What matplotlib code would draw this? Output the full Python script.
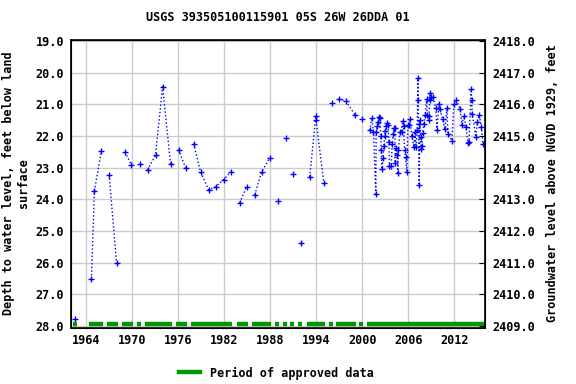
import matplotlib
matplotlib.use("Agg")
import matplotlib.pyplot as plt
import numpy as np

nan = np.nan

# measurement dates (decimal years) and depths (ft below land surface); nan = break in line
years = [1962.6, nan,
         1964.73, 1965.12, 1966.04, nan,
         1967.04, 1968.0, nan,
         1969.1, 1969.95, nan,
         1971.0, nan,
         1972.04, 1973.08, 1974.0, 1975.04, nan,
         1976.08, 1977.0, nan,
         1978.03, 1978.95, 1980.0, 1980.9, 1981.95, 1982.86, nan,
         1984.04, 1984.95, nan,
         1986.0, 1986.9, 1987.95, nan,
         1989.0, nan, 1990.03, nan, 1990.95, nan, 1992.0, nan,
         1993.17, 1993.95, 1994.0, 1995.0, nan,
         1996.04, nan,
         1996.95, 1997.9, 1999.03, nan,
         2000.0, nan,
         2001.0, 2001.26, 2001.47, 2001.78, 2001.82, 2001.95, 2002.08, 2002.21,
         2002.30, 2002.43, 2002.47, 2002.60, 2002.69, 2002.82, 2002.91, 2002.99,
         2003.13, 2003.26, 2003.39, 2003.47, 2003.56, 2003.78, 2003.91, 2004.04,
         2004.17, 2004.26, 2004.30, 2004.43, 2004.56, 2004.65, 2004.73, 2004.91,
         2005.13, 2005.26, 2005.39, 2005.52, 2005.65, 2005.82, 2005.95, 2006.13,
         2006.21, 2006.47, 2006.73, 2006.87, 2007.0, 2007.17, 2007.26, 2007.30,
         2007.34, 2007.43, 2007.52, 2007.60, 2007.69, 2007.78, 2007.87, 2008.04,
         2008.21, 2008.39, 2008.47, 2008.65, 2008.73, 2008.78, 2008.87, 2009.0,
         2009.17, 2009.60, 2009.73, 2010.0, 2010.13, 2010.47, 2010.78, 2011.04,
         2011.17, 2011.69, 2011.95, 2012.21, 2012.73, 2013.0, 2013.26, 2013.52,
         2013.78, 2013.91, 2014.21, 2014.26, 2014.34, 2014.82, 2015.0, 2015.26,
         2015.52, 2015.73]
depths = [27.79, nan,
          26.52, 23.73, 22.46, nan,
          23.22, 26.01, nan,
          22.50, 22.91, nan,
          22.88, nan,
          23.07, 22.60, 20.44, 22.88, nan,
          22.43, 23.0, nan,
          22.24, 23.13, 23.70, 23.60, 23.38, 23.13, nan,
          24.11, 23.60, nan,
          23.86, 23.13, 22.69, nan,
          24.05, nan, 22.05, nan, 23.19, nan, 25.38, nan,
          23.29, 21.36, 21.50, 23.48, nan,
          20.94, nan,
          20.82, 20.90, 21.32, nan,
          21.45, nan,
          21.82, 21.42, 21.87, 23.83, 21.87, 21.68, 21.55, 21.39,
          21.42, 21.99, 22.43, 23.04, 22.69, 22.31, 22.01, 21.84,
          21.68, 21.58, 21.66, 22.19, 22.96, 22.93, 22.26, 21.93,
          21.74, 21.74, 22.85, 22.39, 22.60, 23.16, 22.43, 21.88,
          21.88, 21.51, 21.68, 22.43, 22.67, 23.13, 21.66, 21.64,
          21.45, 22.01, 22.35, 21.86, 22.35, 21.82, 20.18, 20.87,
          21.61, 23.56, 21.50, 22.03, 22.41, 22.30, 21.90, 21.61,
          21.32, 20.82, 21.32, 21.38, 21.50, 20.63, 20.87, 20.76,
          20.76, 21.10, 21.82, 20.98, 21.16, 21.45, 21.79, 21.10,
          21.93, 22.14, 21.00, 20.85, 21.13, 21.64, 21.36, 21.71,
          22.22, 22.19, 20.52, 20.87, 21.29, 22.03, 21.57, 21.33,
          21.71, 22.24]

# periods of approved data
approved_start = [1962.34, 1964.43, 1966.78, 1968.73, 1970.69, 1971.73, 1975.78,
                  1977.73, 1983.73, 1985.69, 1988.69, 1989.73, 1990.65, 1991.69,
                  1992.86, 1995.73, 1996.65, 1999.65, 2000.69]
approved_end = [1962.87, 1966.26, 1968.21, 1970.17, 1971.21, 1975.26, 1977.21,
                1983.08, 1985.17, 1988.17, 1989.21, 1990.26, 1991.17, 1992.21,
                1995.21, 1996.26, 1999.26, 2000.17, 2016.0]

datum = 2437.0
x_ticks = [1964, 1970, 1976, 1982, 1988, 1994, 2000, 2006, 2012]
y_ticks = np.arange(19.0, 28.01, 1.0)
elev_ticks = np.arange(2409.0, 2418.01, 1.0)

font = {"family": "DejaVu Sans Mono", "weight": "bold", "size": 8.5}

fig = plt.figure(figsize=(5.76, 3.84), dpi=100)
ax = fig.add_axes([0.123, 0.147, 0.719, 0.750])

ax.plot(years, depths, linestyle=":", color="blue", linewidth=1.0,
        marker="+", markersize=4, markeredgewidth=1.0)
ax.hlines([27.93] * len(approved_start), approved_start, approved_end,
          color="#009900", linewidth=3.2)

ax.set_xlim(1962.05, 2016.0)
ax.set_ylim(28.05, 18.95)
ax.set_xticks(x_ticks)
ax.set_yticks(y_ticks)
ax.set_xticklabels([str(t) for t in x_ticks], fontdict=font)
ax.set_yticklabels(["%.1f" % t for t in y_ticks], fontdict=font)
ax.grid(True, color="#cccccc", linewidth=1.0)
ax.tick_params(direction="in", length=0, pad=5)
for s in ax.spines.values():
    s.set_linewidth(1.2)
ax.set_ylabel("Depth to water level, feet below land\nsurface", fontdict=font,
              labelpad=4)

ax2 = ax.twinx()
ax2.set_ylim(datum - 28.05, datum - 18.95)
ax2.set_yticks(elev_ticks)
ax2.set_yticklabels(["%.1f" % t for t in elev_ticks], fontdict=font)
ax2.tick_params(direction="in", length=4, pad=5)
ax2.set_ylabel("Groundwater level above NGVD 1929, feet", fontdict=font,
               labelpad=8)

ax.set_title("USGS 393505100115901 05S 26W 26DDA 01", fontdict=font, pad=13)

fig.legend(handles=[plt.Line2D([], [], color="#009900", linewidth=3.2)],
           labels=["Period of approved data"], loc="lower center",
           bbox_to_anchor=(0.48, -0.016), frameon=False, prop=font,
           handlelength=1.8)

fig.savefig("out.png", dpi=100)
